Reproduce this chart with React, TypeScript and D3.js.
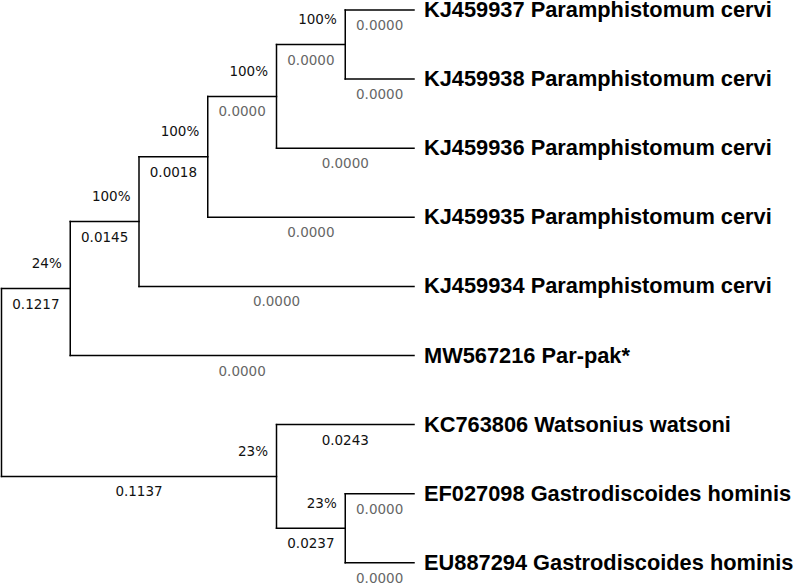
import React from "react";
import * as d3 from "d3";

// Tree table: node name, parent, branch length, bootstrap support
const nodeNames = [
  "root", "A", "B", "C", "D", "E",
  "KJ459937 Paramphistomum cervi",
  "KJ459938 Paramphistomum cervi",
  "KJ459936 Paramphistomum cervi",
  "KJ459935 Paramphistomum cervi",
  "KJ459934 Paramphistomum cervi",
  "MW567216 Par-pak*",
  "F",
  "KC763806 Watsonius watsoni",
  "G",
  "EF027098 Gastrodiscoides hominis",
  "EU887294 Gastrodiscoides hominis",
];
const nodeParents = [
  "", "root", "A", "B", "C", "D",
  "E", "E", "D", "C", "B", "A",
  "root", "F", "F", "G", "G",
];
const branchLengths = [
  null, 0.1217, 0.0145, 0.0018, 0.0, 0.0,
  0.0, 0.0, 0.0, 0.0, 0.0, 0.0,
  0.1137, 0.0243, 0.0237, 0.0, 0.0,
];
const bootstrapValues = [
  null, 24, 100, 100, 100, 100,
  null, null, null, null, null, null,
  23, null, 23, null, null,
];

type Row = { name: string; parent: string; length: number | null; boot: number | null };
const rows: Row[] = nodeNames.map((n, i) => ({
  name: n,
  parent: nodeParents[i],
  length: branchLengths[i],
  boot: bootstrapValues[i],
}));

const W = 797;
const H = 583;

export default function App() {
  const root = d3
    .stratify<Row>()
    .id((d) => d.name)
    .parentId((d) => (d.parent === "" ? null : d.parent))(rows);

  const layout = d3.cluster<Row>().nodeSize([1, 1]).separation(() => 1);
  layout(root);

  const leaves = root.leaves();
  const leafXs = leaves.map((l) => l.x as number);
  const depthMax = d3.max(root.descendants(), (d) => d.y as number) as number;

  // vertical position (breadth) and horizontal position (height-based)
  const yScale = d3.scaleLinear().domain([d3.min(leafXs)!, d3.max(leafXs)!]).range([10, 562.8]);
  const xScale = d3.scaleLinear().domain([0, depthMax]).range([1.5, 414]);

  const px = (n: d3.HierarchyNode<Row>) => xScale(n.y as number);
  const py = (n: d3.HierarchyNode<Row>) => yScale(n.x as number);

  const nodes = root.descendants();
  const fmt = d3.format(".4f");

  return (
    <svg
      width={W}
      height={H}
      style={{ position: "absolute", left: 0, top: 0, background: "#fff" }}
    >
      <rect x={0} y={0} width={W} height={H} fill="#fff" />
      <g stroke="#000" strokeWidth={1.5} strokeLinecap="square" fill="none">
        {nodes
          .filter((n) => n.children)
          .map((n, i) => {
            const ys = n.children!.map(py);
            return (
              <line key={"v" + i} x1={px(n)} x2={px(n)} y1={d3.min(ys)!} y2={d3.max(ys)!} />
            );
          })}
        {nodes
          .filter((n) => n.parent)
          .map((n, i) => (
            <line key={"h" + i} x1={px(n.parent!)} x2={px(n)} y1={py(n)} y2={py(n)} />
          ))}
      </g>
      <g fontFamily="'DejaVu Sans', Verdana, sans-serif" fontSize={13.5}>
        {nodes
          .filter((n) => n.parent)
          .map((n, i) => {
            const len = n.data.length as number;
            return (
              <text
                key={"bl" + i}
                x={(px(n.parent!) + px(n)) / 2}
                y={py(n) + 20}
                textAnchor="middle"
                fill={len === 0 ? "#666" : "#111"}
              >
                {fmt(len)}
              </text>
            );
          })}
        {nodes
          .filter((n) => n.data.boot !== null)
          .map((n, i) => (
            <text
              key={"bs" + i}
              x={px(n) - 8.5}
              y={py(n) - 20.5}
              textAnchor="end"
              fill="#111"
            >
              {n.data.boot + "%"}
            </text>
          ))}
      </g>
      <g fontFamily="'Liberation Sans', Arial, sans-serif" fontWeight="bold" fontSize={21.8} fill="#000">
        {leaves.map((l, i) => (
          <text key={"t" + i} x={px(l) + 10} y={py(l) + 7}>
            {l.data.name}
          </text>
        ))}
      </g>
    </svg>
  );
}
